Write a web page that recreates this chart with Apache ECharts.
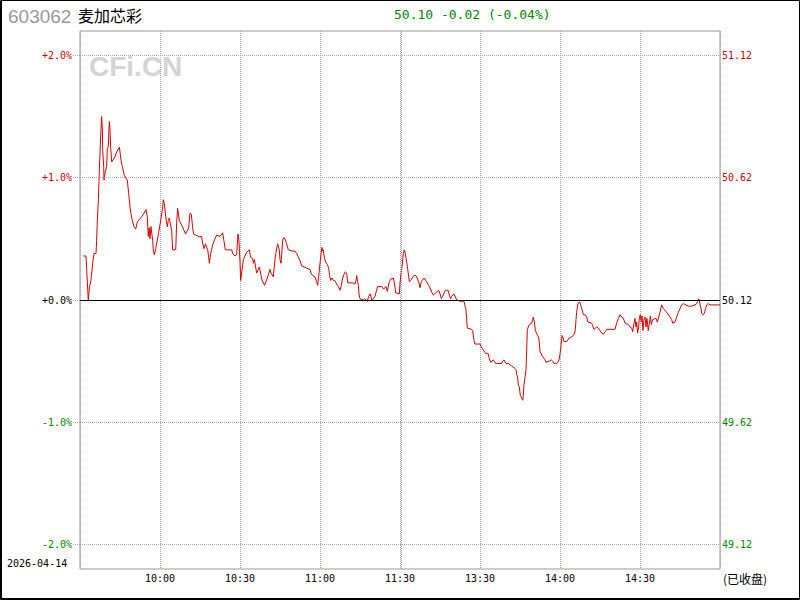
<!DOCTYPE html>
<html>
<head>
<meta charset="utf-8">
<script src="https://cdn.jsdelivr.net/npm/echarts@6/dist/echarts.min.js"></script>
<style>
html,body{margin:0;padding:0;background:#fff;}
#chart{width:800px;height:600px;}
</style>
</head>
<body>
<div id="chart"></div>
<script>
// ---- data ----
const stockCode = '603062';
const stockName = '麦加芯彩';
const quoteText = '50.10 -0.02 (-0.04%)';
const tradeDate = '2026-04-14';
const closedText = '(已收盘)';
const watermarkText = 'CFi.CN';

// minutes since 09:30 (11:30 = 120, 15:00 = 240)
const timeMinutes = [
  1.25,2.25,3.1,3.5,4.1,4.75,5.25,6.0,6.25,6.5,6.9,7.25,7.75,8.1,8.4,8.5,8.9,9.0,9.4,10.0,
  10.25,10.6,11.0,11.25,11.5,11.9,13.1,13.75,14.75,15.0,15.4,15.9,16.6,17.75,18.25,18.75,19.1,19.6,20.25,20.9,
  21.5,23.1,24.0,24.75,25.25,25.6,25.9,26.25,26.6,27.25,27.5,27.9,28.4,29.5,30.4,30.9,31.25,31.6,32.4,32.75,
  33.1,33.5,34.4,34.75,35.9,36.25,36.6,37.25,38.4,39.6,40.75,41.25,41.75,42.25,42.6,44.4,45.6,46.0,46.5,47.0,
  47.9,48.25,48.5,49.0,49.75,50.6,51.25,52.5,53.5,54.0,54.5,56.9,57.25,58.1,58.75,59.0,59.25,59.6,60.0,60.25,
  60.6,61.25,62.25,62.9,63.5,64.0,64.75,65.0,65.4,66.25,67.25,68.25,69.25,70.25,71.25,71.6,72.5,73.1,73.5,74.1,
  74.75,75.0,75.4,75.75,76.0,76.4,76.9,77.5,78.1,79.75,80.6,81.25,81.9,82.5,83.1,85.0,86.25,86.6,87.25,88.1,
  88.75,89.1,89.5,90.0,90.4,90.75,91.0,91.25,91.6,92.1,92.75,93.25,93.6,94.0,94.5,95.0,95.5,96.25,96.9,97.5,
  98.0,98.5,99.0,99.5,100.0,100.4,102.25,103.1,103.5,103.75,104.1,104.4,104.6,105.0,106.25,106.75,107.25,107.75,108.25,108.75,
  109.1,109.4,110.0,110.6,111.25,111.6,113.1,113.75,114.4,114.75,115.25,115.6,116.0,116.5,117.5,117.9,118.4,119.75,120.0,120.9,
  121.25,121.6,122.0,122.5,122.9,123.5,124.0,125.25,126.0,127.0,127.5,128.0,129.0,130.0,131.0,132.0,132.5,133.5,134.5,135.0,
  135.5,136.0,137.0,137.5,138.0,138.5,139.0,139.4,140.25,141.25,142.5,144.0,144.4,144.75,145.0,145.25,146.9,147.25,147.75,148.1,
  150.0,150.4,151.25,152.25,153.1,153.5,154.0,154.5,155.0,155.9,158.1,158.5,159.0,159.75,160.75,161.25,161.9,163.1,163.5,163.75,
  164.1,164.4,164.75,165.1,165.6,166.0,166.25,166.5,166.9,167.25,167.5,167.75,168.5,169.4,169.75,170.0,170.4,170.75,171.6,172.0,
  172.25,172.5,173.4,174.4,174.75,176.0,176.75,177.25,177.75,178.75,179.4,179.75,180.0,180.25,180.6,180.75,181.0,181.5,182.5,183.5,
  184.4,185.0,185.5,185.75,186.0,186.25,186.6,187.0,187.5,187.9,188.4,188.75,189.4,190.0,190.5,191.9,192.25,192.75,193.25,193.75,
  194.4,195.0,195.6,196.25,196.9,197.5,200.6,201.25,201.9,202.5,203.1,203.75,204.4,205.6,206.25,206.9,207.25,207.75,208.1,208.5,
  208.75,209.1,209.5,209.75,210.1,210.5,210.75,211.1,211.5,211.9,212.25,212.6,213.1,213.5,213.9,214.25,214.75,216.0,216.5,217.0,
  217.5,218.1,218.75,220.0,221.25,221.9,222.25,223.1,223.75,224.4,225.0,225.6,226.25,228.1,229.4,230.6,231.25,231.6,232.0,232.25,
  232.5,232.9,233.1,233.75,234.1,234.5,235.0,235.6,236.25,239.1,240.0
];
// percent change vs previous close (50.12)
const pctChange = [
  0.36,0.36,0.00,0.10,0.16,0.30,0.38,0.38,0.49,0.65,0.82,1.06,1.34,1.50,1.40,1.23,1.09,0.98,1.04,1.09,
  1.24,1.25,1.46,1.39,1.25,1.13,1.17,1.21,1.25,1.21,1.14,1.09,1.02,0.98,0.87,0.76,0.71,0.65,0.60,0.58,
  0.64,0.68,0.71,0.74,0.68,0.52,0.59,0.50,0.60,0.49,0.40,0.37,0.42,0.55,0.67,0.74,0.82,0.79,0.64,0.60,
  0.65,0.67,0.56,0.41,0.41,0.63,0.75,0.65,0.60,0.54,0.59,0.71,0.70,0.59,0.54,0.52,0.52,0.46,0.42,0.46,
  0.41,0.35,0.30,0.38,0.45,0.50,0.53,0.52,0.55,0.48,0.41,0.41,0.38,0.36,0.37,0.46,0.54,0.49,0.31,0.16,
  0.22,0.33,0.38,0.40,0.41,0.35,0.34,0.30,0.33,0.22,0.27,0.16,0.12,0.18,0.25,0.22,0.19,0.33,0.39,0.46,
  0.41,0.33,0.30,0.41,0.49,0.51,0.50,0.46,0.41,0.40,0.40,0.38,0.35,0.32,0.28,0.26,0.25,0.22,0.20,0.19,
  0.15,0.12,0.19,0.30,0.38,0.43,0.40,0.41,0.35,0.31,0.29,0.26,0.20,0.16,0.18,0.16,0.16,0.13,0.11,0.08,
  0.12,0.18,0.21,0.23,0.22,0.14,0.14,0.13,0.16,0.20,0.15,0.12,0.05,0.01,0.00,0.01,0.00,-0.01,0.03,0.05,
  0.03,0.00,0.01,0.03,0.08,0.11,0.11,0.09,0.10,0.11,0.07,0.11,0.15,0.17,0.18,0.14,0.06,0.05,0.14,0.30,
  0.38,0.41,0.38,0.31,0.25,0.15,0.16,0.20,0.20,0.15,0.10,0.15,0.18,0.15,0.11,0.06,0.04,0.06,0.08,0.05,
  0.01,0.03,0.08,0.08,0.08,0.04,0.01,0.03,0.05,0.00,-0.01,-0.01,-0.05,-0.08,-0.16,-0.23,-0.24,-0.25,-0.33,-0.36,
  -0.36,-0.38,-0.41,-0.44,-0.44,-0.48,-0.51,-0.50,-0.49,-0.52,-0.52,-0.50,-0.49,-0.52,-0.52,-0.53,-0.54,-0.56,-0.57,-0.61,
  -0.63,-0.70,-0.71,-0.78,-0.80,-0.82,-0.78,-0.69,-0.63,-0.57,-0.41,-0.24,-0.20,-0.19,-0.16,-0.14,-0.18,-0.25,-0.29,-0.31,
  -0.35,-0.42,-0.46,-0.49,-0.51,-0.50,-0.49,-0.50,-0.52,-0.52,-0.50,-0.48,-0.44,-0.40,-0.33,-0.29,-0.30,-0.34,-0.34,-0.31,
  -0.30,-0.29,-0.27,-0.24,-0.16,-0.10,-0.04,-0.02,-0.02,-0.05,-0.09,-0.12,-0.12,-0.14,-0.18,-0.19,-0.21,-0.24,-0.23,-0.22,
  -0.23,-0.25,-0.27,-0.28,-0.26,-0.24,-0.24,-0.19,-0.15,-0.12,-0.14,-0.15,-0.19,-0.20,-0.22,-0.23,-0.26,-0.19,-0.15,-0.22,
  -0.18,-0.27,-0.22,-0.15,-0.12,-0.18,-0.13,-0.25,-0.16,-0.14,-0.22,-0.15,-0.25,-0.19,-0.13,-0.20,-0.16,-0.15,-0.18,-0.14,
  -0.10,-0.04,-0.07,-0.10,-0.14,-0.16,-0.19,-0.18,-0.14,-0.10,-0.07,-0.04,-0.03,-0.05,-0.05,-0.04,-0.03,-0.01,0.01,0.00,
  -0.04,-0.07,-0.11,-0.12,-0.11,-0.08,-0.04,-0.03,-0.04,-0.04,-0.04
];

const xTickValues = [30, 60, 90, 120, 150, 180, 210];
const xTickLabels = ['10:00', '10:30', '11:00', '11:30', '13:30', '14:00', '14:30'];
const pctTickValues = [2, 1, 0, -1, -2];
const pctTickLabels = ['+2.0%', '+1.0%', '+0.0%', '-1.0%', '-2.0%'];
const priceTickLabels = ['51.12', '50.62', '50.12', '49.62', '49.12'];

// ---- chart ----
const RED = '#dd0000', GREEN = '#008800', GRIDC = '#aaaaaa';
const MONO = '"DejaVu Sans Mono", "Liberation Mono", monospace';
const lineData = timeMinutes.map((t, i) => [t, pctChange[i]]);
const tickColor = v => (v > 0 ? RED : (v < 0 ? GREEN : '#000'));

const chart = echarts.init(document.getElementById('chart'), null, { renderer: 'svg' });
chart.setOption({
  animation: false,
  backgroundColor: '#fff',
  grid: { left: 80, right: 80, top: 31, bottom: 31, show: true, borderColor: '#999', borderWidth: 1, backgroundColor: 'transparent' },
  xAxis: {
    type: 'value', min: 0, max: 240, interval: 30,
    axisLine: { show: false }, axisTick: { show: false },
    splitLine: { show: true, lineStyle: { type: 'dotted', color: GRIDC, width: 1 } },
    axisLabel: {
      showMinLabel: false, showMaxLabel: false, margin: 4,
      fontFamily: MONO, fontSize: 10, color: '#000',
      formatter: v => { const i = xTickValues.indexOf(v); return i >= 0 ? xTickLabels[i] : ''; }
    }
  },
  yAxis: [
    {
      type: 'value', min: -2.2, max: 2.2, position: 'left',
      axisLine: { show: false },
      splitLine: { show: false },
      axisTick: { show: true, inside: false, length: 8, customValues: pctTickValues, lineStyle: { type: 'dotted', color: GRIDC } },
      axisLabel: {
        customValues: pctTickValues, margin: 8, fontFamily: MONO, fontSize: 10,
        color: v => tickColor(Number(v)),
        formatter: v => { const i = pctTickValues.indexOf(Number(v)); return i >= 0 ? pctTickLabels[i] : ''; }
      }
    },
    {
      type: 'value', min: -2.2, max: 2.2, position: 'right',
      axisLine: { show: false }, splitLine: { show: false }, axisTick: { show: false },
      axisLabel: {
        customValues: pctTickValues, margin: 2, fontFamily: MONO, fontSize: 10,
        color: v => tickColor(Number(v)),
        formatter: v => { const i = pctTickValues.indexOf(Number(v)); return i >= 0 ? priceTickLabels[i] : ''; }
      }
    }
  ],
  graphic: [
    { type: 'text', left: 89, top: 52, z: -1, silent: true,
      style: { text: watermarkText, fill: '#d4d4d4', font: 'bold 28px "Liberation Sans", Arial, sans-serif' } },
    { type: 'text', x: 8, y: 16, style: { text: stockCode, fill: '#999', font: '19px "Liberation Sans", Arial, sans-serif', textVerticalAlign: 'middle' } },
    { type: 'text', x: 78, y: 14.5, style: { text: stockName, fill: '#000', font: '16px "Noto Sans CJK SC", sans-serif', textVerticalAlign: 'middle' } },
    { type: 'text', x: 394, y: 14.5, style: { text: quoteText, fill: GREEN, font: '13px ' + MONO, textVerticalAlign: 'middle' } },
    { type: 'text', x: 7, y: 563, style: { text: tradeDate, fill: '#000', font: '10px ' + MONO, textVerticalAlign: 'middle' } },
    { type: 'text', x: 723, y: 578, style: { text: closedText, fill: '#000', font: '12px "Noto Sans CJK SC", sans-serif', textVerticalAlign: 'middle' } },
    { type: 'rect', silent: true, shape: { x: 0.5, y: 0.5, width: 799, height: 599 }, style: { fill: 'none', stroke: '#000', lineWidth: 1 } },
    { type: 'line', silent: true, shape: { x1: 1.5, y1: 0, x2: 1.5, y2: 600 }, style: { stroke: '#000', lineWidth: 1 } },
    { type: 'line', silent: true, shape: { x1: 0, y1: 598.5, x2: 800, y2: 598.5 }, style: { stroke: '#000', lineWidth: 1 } }
  ],
  series: [{
    type: 'line', data: lineData, xAxisIndex: 0, yAxisIndex: 0,
    showSymbol: false, symbol: 'none', smooth: false,
    lineStyle: { color: RED, width: 1 },
    z: 3,
    markLine: {
      silent: true, symbol: ['none', 'none'], label: { show: false }, animation: false,
      data: [
        { yAxis: 2, lineStyle: { type: 'dotted', color: GRIDC, width: 1 } },
        { yAxis: 1, lineStyle: { type: 'dotted', color: GRIDC, width: 1 } },
        { yAxis: -1, lineStyle: { type: 'dotted', color: GRIDC, width: 1 } },
        { yAxis: -2, lineStyle: { type: 'dotted', color: GRIDC, width: 1 } },
        { xAxis: 120.6, lineStyle: { type: 'dotted', color: GRIDC, width: 1 } },
        { yAxis: 0, lineStyle: { type: 'solid', color: '#000', width: 1 } }
      ]
    }
  }]
});
</script>
</body>
</html>
